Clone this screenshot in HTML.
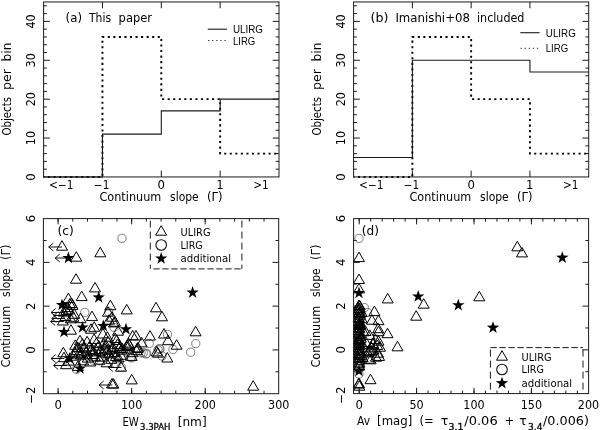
<!DOCTYPE html>
<html><head><meta charset="utf-8"><title>Continuum slope figure</title>
<style>html,body{margin:0;padding:0;background:#fff}svg{display:block}</style></head>
<body>
<svg width="600" height="430" viewBox="0 0 600 430">
<rect width="600" height="430" fill="#fff"/>
<line x1="43.60" y1="169.17" x2="46.90" y2="169.17" stroke="#1a1a1a" stroke-width="1"/>
<line x1="279.00" y1="169.17" x2="275.70" y2="169.17" stroke="#1a1a1a" stroke-width="1"/>
<line x1="43.60" y1="161.39" x2="46.90" y2="161.39" stroke="#1a1a1a" stroke-width="1"/>
<line x1="279.00" y1="161.39" x2="275.70" y2="161.39" stroke="#1a1a1a" stroke-width="1"/>
<line x1="43.60" y1="153.62" x2="46.90" y2="153.62" stroke="#1a1a1a" stroke-width="1"/>
<line x1="279.00" y1="153.62" x2="275.70" y2="153.62" stroke="#1a1a1a" stroke-width="1"/>
<line x1="43.60" y1="145.84" x2="46.90" y2="145.84" stroke="#1a1a1a" stroke-width="1"/>
<line x1="279.00" y1="145.84" x2="275.70" y2="145.84" stroke="#1a1a1a" stroke-width="1"/>
<line x1="43.60" y1="138.06" x2="49.90" y2="138.06" stroke="#1a1a1a" stroke-width="1"/>
<line x1="279.00" y1="138.06" x2="272.70" y2="138.06" stroke="#1a1a1a" stroke-width="1"/>
<line x1="43.60" y1="130.28" x2="46.90" y2="130.28" stroke="#1a1a1a" stroke-width="1"/>
<line x1="279.00" y1="130.28" x2="275.70" y2="130.28" stroke="#1a1a1a" stroke-width="1"/>
<line x1="43.60" y1="122.51" x2="46.90" y2="122.51" stroke="#1a1a1a" stroke-width="1"/>
<line x1="279.00" y1="122.51" x2="275.70" y2="122.51" stroke="#1a1a1a" stroke-width="1"/>
<line x1="43.60" y1="114.73" x2="46.90" y2="114.73" stroke="#1a1a1a" stroke-width="1"/>
<line x1="279.00" y1="114.73" x2="275.70" y2="114.73" stroke="#1a1a1a" stroke-width="1"/>
<line x1="43.60" y1="106.95" x2="46.90" y2="106.95" stroke="#1a1a1a" stroke-width="1"/>
<line x1="279.00" y1="106.95" x2="275.70" y2="106.95" stroke="#1a1a1a" stroke-width="1"/>
<line x1="43.60" y1="99.17" x2="49.90" y2="99.17" stroke="#1a1a1a" stroke-width="1"/>
<line x1="279.00" y1="99.17" x2="272.70" y2="99.17" stroke="#1a1a1a" stroke-width="1"/>
<line x1="43.60" y1="91.39" x2="46.90" y2="91.39" stroke="#1a1a1a" stroke-width="1"/>
<line x1="279.00" y1="91.39" x2="275.70" y2="91.39" stroke="#1a1a1a" stroke-width="1"/>
<line x1="43.60" y1="83.62" x2="46.90" y2="83.62" stroke="#1a1a1a" stroke-width="1"/>
<line x1="279.00" y1="83.62" x2="275.70" y2="83.62" stroke="#1a1a1a" stroke-width="1"/>
<line x1="43.60" y1="75.84" x2="46.90" y2="75.84" stroke="#1a1a1a" stroke-width="1"/>
<line x1="279.00" y1="75.84" x2="275.70" y2="75.84" stroke="#1a1a1a" stroke-width="1"/>
<line x1="43.60" y1="68.06" x2="46.90" y2="68.06" stroke="#1a1a1a" stroke-width="1"/>
<line x1="279.00" y1="68.06" x2="275.70" y2="68.06" stroke="#1a1a1a" stroke-width="1"/>
<line x1="43.60" y1="60.28" x2="49.90" y2="60.28" stroke="#1a1a1a" stroke-width="1"/>
<line x1="279.00" y1="60.28" x2="272.70" y2="60.28" stroke="#1a1a1a" stroke-width="1"/>
<line x1="43.60" y1="52.51" x2="46.90" y2="52.51" stroke="#1a1a1a" stroke-width="1"/>
<line x1="279.00" y1="52.51" x2="275.70" y2="52.51" stroke="#1a1a1a" stroke-width="1"/>
<line x1="43.60" y1="44.73" x2="46.90" y2="44.73" stroke="#1a1a1a" stroke-width="1"/>
<line x1="279.00" y1="44.73" x2="275.70" y2="44.73" stroke="#1a1a1a" stroke-width="1"/>
<line x1="43.60" y1="36.95" x2="46.90" y2="36.95" stroke="#1a1a1a" stroke-width="1"/>
<line x1="279.00" y1="36.95" x2="275.70" y2="36.95" stroke="#1a1a1a" stroke-width="1"/>
<line x1="43.60" y1="29.17" x2="46.90" y2="29.17" stroke="#1a1a1a" stroke-width="1"/>
<line x1="279.00" y1="29.17" x2="275.70" y2="29.17" stroke="#1a1a1a" stroke-width="1"/>
<line x1="43.60" y1="21.39" x2="49.90" y2="21.39" stroke="#1a1a1a" stroke-width="1"/>
<line x1="279.00" y1="21.39" x2="272.70" y2="21.39" stroke="#1a1a1a" stroke-width="1"/>
<line x1="43.60" y1="13.62" x2="46.90" y2="13.62" stroke="#1a1a1a" stroke-width="1"/>
<line x1="279.00" y1="13.62" x2="275.70" y2="13.62" stroke="#1a1a1a" stroke-width="1"/>
<line x1="43.60" y1="5.84" x2="46.90" y2="5.84" stroke="#1a1a1a" stroke-width="1"/>
<line x1="279.00" y1="5.84" x2="275.70" y2="5.84" stroke="#1a1a1a" stroke-width="1"/>
<line x1="102.45" y1="1.95" x2="102.45" y2="8.25" stroke="#1a1a1a" stroke-width="1"/>
<line x1="102.45" y1="176.95" x2="102.45" y2="170.65" stroke="#1a1a1a" stroke-width="1"/>
<line x1="161.30" y1="1.95" x2="161.30" y2="8.25" stroke="#1a1a1a" stroke-width="1"/>
<line x1="161.30" y1="176.95" x2="161.30" y2="170.65" stroke="#1a1a1a" stroke-width="1"/>
<line x1="220.15" y1="1.95" x2="220.15" y2="8.25" stroke="#1a1a1a" stroke-width="1"/>
<line x1="220.15" y1="176.95" x2="220.15" y2="170.65" stroke="#1a1a1a" stroke-width="1"/>
<text x="35.20" y="176.95" font-size="11.7" font-family='"DejaVu Sans","Liberation Sans",sans-serif' fill="#000" text-anchor="middle" transform="rotate(-90 35.20 176.95)">0</text>
<text x="35.20" y="138.06" font-size="11.7" font-family='"DejaVu Sans","Liberation Sans",sans-serif' fill="#000" text-anchor="middle" textLength="14.30" lengthAdjust="spacingAndGlyphs" transform="rotate(-90 35.20 138.06)">10</text>
<text x="35.20" y="99.17" font-size="11.7" font-family='"DejaVu Sans","Liberation Sans",sans-serif' fill="#000" text-anchor="middle" textLength="14.30" lengthAdjust="spacingAndGlyphs" transform="rotate(-90 35.20 99.17)">20</text>
<text x="35.20" y="60.28" font-size="11.7" font-family='"DejaVu Sans","Liberation Sans",sans-serif' fill="#000" text-anchor="middle" textLength="14.30" lengthAdjust="spacingAndGlyphs" transform="rotate(-90 35.20 60.28)">30</text>
<text x="35.20" y="21.39" font-size="11.7" font-family='"DejaVu Sans","Liberation Sans",sans-serif' fill="#000" text-anchor="middle" textLength="14.30" lengthAdjust="spacingAndGlyphs" transform="rotate(-90 35.20 21.39)">40</text>
<text x="49.00" y="188.50" font-size="11.7" font-family='"DejaVu Sans","Liberation Sans",sans-serif' fill="#000" textLength="24.50" lengthAdjust="spacingAndGlyphs">&lt;−1</text>
<text x="93.85" y="188.50" font-size="11.7" font-family='"DejaVu Sans","Liberation Sans",sans-serif' fill="#000" textLength="15.50" lengthAdjust="spacingAndGlyphs">−1</text>
<text x="161.30" y="188.50" font-size="11.7" font-family='"DejaVu Sans","Liberation Sans",sans-serif' fill="#000" text-anchor="middle">0</text>
<text x="219.85" y="188.50" font-size="11.7" font-family='"DejaVu Sans","Liberation Sans",sans-serif' fill="#000" text-anchor="middle">1</text>
<text x="253.15" y="188.50" font-size="11.7" font-family='"DejaVu Sans","Liberation Sans",sans-serif' fill="#000" textLength="15.50" lengthAdjust="spacingAndGlyphs">&gt;1</text>
<text font-size="11.7" font-family='"DejaVu Sans","Liberation Sans",sans-serif' fill="#000"><tspan x="99.50" y="200.80" textLength="61.75" lengthAdjust="spacingAndGlyphs">Continuum</tspan> <tspan x="170.00" y="200.80" textLength="28.75" lengthAdjust="spacingAndGlyphs">slope</tspan> <tspan x="207.00" y="200.80" textLength="15.50" lengthAdjust="spacingAndGlyphs">(Γ)</tspan></text>
<text font-size="11.7" font-family='"DejaVu Sans","Liberation Sans",sans-serif' fill="#000" transform="rotate(-90 11.20 135.50)"><tspan x="11.20" y="135.50" textLength="38.50" lengthAdjust="spacingAndGlyphs">Objects</tspan> <tspan x="56.70" y="135.50" textLength="21.00" lengthAdjust="spacingAndGlyphs">per</tspan> <tspan x="85.20" y="135.50" textLength="18.90" lengthAdjust="spacingAndGlyphs">bin</tspan></text>
<text font-size="11.7" font-family='"DejaVu Sans","Liberation Sans",sans-serif' fill="#000"><tspan x="65.60" y="21.90" textLength="16.40" lengthAdjust="spacingAndGlyphs">(a)</tspan> <tspan x="89.00" y="21.90" textLength="22.00" lengthAdjust="spacingAndGlyphs">This</tspan> <tspan x="118.60" y="21.90" textLength="33.40" lengthAdjust="spacingAndGlyphs">paper</tspan></text>
<polyline points="43.60,176.95 43.60,176.95 102.45,176.95 102.45,36.95 161.30,36.95 161.30,99.17 220.15,99.17 220.15,153.62 279.00,153.62" fill="none" stroke="#000" stroke-width="1.9" stroke-dasharray="2.1 3.45" stroke-dashoffset="1.2"/>
<polyline points="43.60,176.95 43.60,176.95 102.45,176.95 102.45,134.17 161.30,134.17 161.30,110.84 220.15,110.84 220.15,99.17 279.00,99.17" fill="none" stroke="#1a1a1a" stroke-width="1.1"/>
<line x1="207.80" y1="29.20" x2="227.10" y2="29.20" stroke="#1a1a1a" stroke-width="1.1"/>
<line x1="208.00" y1="40.50" x2="225.80" y2="40.50" stroke="#333" stroke-width="1.0" stroke-dasharray="1.3 2.8"/>
<text x="233.00" y="33.10" font-size="10.5" font-family='"Liberation Sans","DejaVu Sans",sans-serif' fill="#000" textLength="30.00" lengthAdjust="spacingAndGlyphs">ULIRG</text>
<text x="233.00" y="44.60" font-size="10.5" font-family='"Liberation Sans","DejaVu Sans",sans-serif' fill="#000" textLength="22.30" lengthAdjust="spacingAndGlyphs">LIRG</text>
<rect x="43.60" y="1.95" width="235.40" height="175.00" fill="none" stroke="#1a1a1a" stroke-width="1"/>
<line x1="353.60" y1="169.17" x2="356.90" y2="169.17" stroke="#1a1a1a" stroke-width="1"/>
<line x1="588.70" y1="169.17" x2="585.40" y2="169.17" stroke="#1a1a1a" stroke-width="1"/>
<line x1="353.60" y1="161.39" x2="356.90" y2="161.39" stroke="#1a1a1a" stroke-width="1"/>
<line x1="588.70" y1="161.39" x2="585.40" y2="161.39" stroke="#1a1a1a" stroke-width="1"/>
<line x1="353.60" y1="153.62" x2="356.90" y2="153.62" stroke="#1a1a1a" stroke-width="1"/>
<line x1="588.70" y1="153.62" x2="585.40" y2="153.62" stroke="#1a1a1a" stroke-width="1"/>
<line x1="353.60" y1="145.84" x2="356.90" y2="145.84" stroke="#1a1a1a" stroke-width="1"/>
<line x1="588.70" y1="145.84" x2="585.40" y2="145.84" stroke="#1a1a1a" stroke-width="1"/>
<line x1="353.60" y1="138.06" x2="359.90" y2="138.06" stroke="#1a1a1a" stroke-width="1"/>
<line x1="588.70" y1="138.06" x2="582.40" y2="138.06" stroke="#1a1a1a" stroke-width="1"/>
<line x1="353.60" y1="130.28" x2="356.90" y2="130.28" stroke="#1a1a1a" stroke-width="1"/>
<line x1="588.70" y1="130.28" x2="585.40" y2="130.28" stroke="#1a1a1a" stroke-width="1"/>
<line x1="353.60" y1="122.51" x2="356.90" y2="122.51" stroke="#1a1a1a" stroke-width="1"/>
<line x1="588.70" y1="122.51" x2="585.40" y2="122.51" stroke="#1a1a1a" stroke-width="1"/>
<line x1="353.60" y1="114.73" x2="356.90" y2="114.73" stroke="#1a1a1a" stroke-width="1"/>
<line x1="588.70" y1="114.73" x2="585.40" y2="114.73" stroke="#1a1a1a" stroke-width="1"/>
<line x1="353.60" y1="106.95" x2="356.90" y2="106.95" stroke="#1a1a1a" stroke-width="1"/>
<line x1="588.70" y1="106.95" x2="585.40" y2="106.95" stroke="#1a1a1a" stroke-width="1"/>
<line x1="353.60" y1="99.17" x2="359.90" y2="99.17" stroke="#1a1a1a" stroke-width="1"/>
<line x1="588.70" y1="99.17" x2="582.40" y2="99.17" stroke="#1a1a1a" stroke-width="1"/>
<line x1="353.60" y1="91.39" x2="356.90" y2="91.39" stroke="#1a1a1a" stroke-width="1"/>
<line x1="588.70" y1="91.39" x2="585.40" y2="91.39" stroke="#1a1a1a" stroke-width="1"/>
<line x1="353.60" y1="83.62" x2="356.90" y2="83.62" stroke="#1a1a1a" stroke-width="1"/>
<line x1="588.70" y1="83.62" x2="585.40" y2="83.62" stroke="#1a1a1a" stroke-width="1"/>
<line x1="353.60" y1="75.84" x2="356.90" y2="75.84" stroke="#1a1a1a" stroke-width="1"/>
<line x1="588.70" y1="75.84" x2="585.40" y2="75.84" stroke="#1a1a1a" stroke-width="1"/>
<line x1="353.60" y1="68.06" x2="356.90" y2="68.06" stroke="#1a1a1a" stroke-width="1"/>
<line x1="588.70" y1="68.06" x2="585.40" y2="68.06" stroke="#1a1a1a" stroke-width="1"/>
<line x1="353.60" y1="60.28" x2="359.90" y2="60.28" stroke="#1a1a1a" stroke-width="1"/>
<line x1="588.70" y1="60.28" x2="582.40" y2="60.28" stroke="#1a1a1a" stroke-width="1"/>
<line x1="353.60" y1="52.51" x2="356.90" y2="52.51" stroke="#1a1a1a" stroke-width="1"/>
<line x1="588.70" y1="52.51" x2="585.40" y2="52.51" stroke="#1a1a1a" stroke-width="1"/>
<line x1="353.60" y1="44.73" x2="356.90" y2="44.73" stroke="#1a1a1a" stroke-width="1"/>
<line x1="588.70" y1="44.73" x2="585.40" y2="44.73" stroke="#1a1a1a" stroke-width="1"/>
<line x1="353.60" y1="36.95" x2="356.90" y2="36.95" stroke="#1a1a1a" stroke-width="1"/>
<line x1="588.70" y1="36.95" x2="585.40" y2="36.95" stroke="#1a1a1a" stroke-width="1"/>
<line x1="353.60" y1="29.17" x2="356.90" y2="29.17" stroke="#1a1a1a" stroke-width="1"/>
<line x1="588.70" y1="29.17" x2="585.40" y2="29.17" stroke="#1a1a1a" stroke-width="1"/>
<line x1="353.60" y1="21.39" x2="359.90" y2="21.39" stroke="#1a1a1a" stroke-width="1"/>
<line x1="588.70" y1="21.39" x2="582.40" y2="21.39" stroke="#1a1a1a" stroke-width="1"/>
<line x1="353.60" y1="13.62" x2="356.90" y2="13.62" stroke="#1a1a1a" stroke-width="1"/>
<line x1="588.70" y1="13.62" x2="585.40" y2="13.62" stroke="#1a1a1a" stroke-width="1"/>
<line x1="353.60" y1="5.84" x2="356.90" y2="5.84" stroke="#1a1a1a" stroke-width="1"/>
<line x1="588.70" y1="5.84" x2="585.40" y2="5.84" stroke="#1a1a1a" stroke-width="1"/>
<line x1="412.38" y1="1.95" x2="412.38" y2="8.25" stroke="#1a1a1a" stroke-width="1"/>
<line x1="412.38" y1="176.95" x2="412.38" y2="170.65" stroke="#1a1a1a" stroke-width="1"/>
<line x1="471.15" y1="1.95" x2="471.15" y2="8.25" stroke="#1a1a1a" stroke-width="1"/>
<line x1="471.15" y1="176.95" x2="471.15" y2="170.65" stroke="#1a1a1a" stroke-width="1"/>
<line x1="529.93" y1="1.95" x2="529.93" y2="8.25" stroke="#1a1a1a" stroke-width="1"/>
<line x1="529.93" y1="176.95" x2="529.93" y2="170.65" stroke="#1a1a1a" stroke-width="1"/>
<text x="345.20" y="176.95" font-size="11.7" font-family='"DejaVu Sans","Liberation Sans",sans-serif' fill="#000" text-anchor="middle" transform="rotate(-90 345.20 176.95)">0</text>
<text x="345.20" y="138.06" font-size="11.7" font-family='"DejaVu Sans","Liberation Sans",sans-serif' fill="#000" text-anchor="middle" textLength="14.30" lengthAdjust="spacingAndGlyphs" transform="rotate(-90 345.20 138.06)">10</text>
<text x="345.20" y="99.17" font-size="11.7" font-family='"DejaVu Sans","Liberation Sans",sans-serif' fill="#000" text-anchor="middle" textLength="14.30" lengthAdjust="spacingAndGlyphs" transform="rotate(-90 345.20 99.17)">20</text>
<text x="345.20" y="60.28" font-size="11.7" font-family='"DejaVu Sans","Liberation Sans",sans-serif' fill="#000" text-anchor="middle" textLength="14.30" lengthAdjust="spacingAndGlyphs" transform="rotate(-90 345.20 60.28)">30</text>
<text x="345.20" y="21.39" font-size="11.7" font-family='"DejaVu Sans","Liberation Sans",sans-serif' fill="#000" text-anchor="middle" textLength="14.30" lengthAdjust="spacingAndGlyphs" transform="rotate(-90 345.20 21.39)">40</text>
<text x="359.00" y="188.50" font-size="11.7" font-family='"DejaVu Sans","Liberation Sans",sans-serif' fill="#000" textLength="24.50" lengthAdjust="spacingAndGlyphs">&lt;−1</text>
<text x="403.77" y="188.50" font-size="11.7" font-family='"DejaVu Sans","Liberation Sans",sans-serif' fill="#000" textLength="15.50" lengthAdjust="spacingAndGlyphs">−1</text>
<text x="471.15" y="188.50" font-size="11.7" font-family='"DejaVu Sans","Liberation Sans",sans-serif' fill="#000" text-anchor="middle">0</text>
<text x="529.63" y="188.50" font-size="11.7" font-family='"DejaVu Sans","Liberation Sans",sans-serif' fill="#000" text-anchor="middle">1</text>
<text x="562.93" y="188.50" font-size="11.7" font-family='"DejaVu Sans","Liberation Sans",sans-serif' fill="#000" textLength="15.50" lengthAdjust="spacingAndGlyphs">&gt;1</text>
<text font-size="11.7" font-family='"DejaVu Sans","Liberation Sans",sans-serif' fill="#000"><tspan x="409.50" y="200.80" textLength="61.75" lengthAdjust="spacingAndGlyphs">Continuum</tspan> <tspan x="480.00" y="200.80" textLength="28.75" lengthAdjust="spacingAndGlyphs">slope</tspan> <tspan x="517.00" y="200.80" textLength="15.50" lengthAdjust="spacingAndGlyphs">(Γ)</tspan></text>
<text font-size="11.7" font-family='"DejaVu Sans","Liberation Sans",sans-serif' fill="#000" transform="rotate(-90 321.20 135.50)"><tspan x="321.20" y="135.50" textLength="38.50" lengthAdjust="spacingAndGlyphs">Objects</tspan> <tspan x="366.70" y="135.50" textLength="21.00" lengthAdjust="spacingAndGlyphs">per</tspan> <tspan x="395.20" y="135.50" textLength="18.90" lengthAdjust="spacingAndGlyphs">bin</tspan></text>
<text font-size="11.7" font-family='"DejaVu Sans","Liberation Sans",sans-serif' fill="#000"><tspan x="370.50" y="21.90" textLength="18.00" lengthAdjust="spacingAndGlyphs">(b)</tspan> <tspan x="395.40" y="21.90" textLength="74.60" lengthAdjust="spacingAndGlyphs">Imanishi+08</tspan> <tspan x="477.00" y="21.90" textLength="47.40" lengthAdjust="spacingAndGlyphs">included</tspan></text>
<polyline points="353.60,176.95 353.60,176.95 412.38,176.95 412.38,36.95 471.15,36.95 471.15,99.17 529.93,99.17 529.93,153.62 588.70,153.62" fill="none" stroke="#000" stroke-width="1.9" stroke-dasharray="2.1 3.45" stroke-dashoffset="1.2"/>
<polyline points="353.60,157.51 353.60,157.51 412.38,157.51 412.38,60.28 471.15,60.28 471.15,60.28 529.93,60.28 529.93,71.95 588.70,71.95" fill="none" stroke="#1a1a1a" stroke-width="1.1"/>
<line x1="520.30" y1="32.70" x2="539.60" y2="32.70" stroke="#1a1a1a" stroke-width="1.1"/>
<line x1="520.50" y1="48.30" x2="538.30" y2="48.30" stroke="#333" stroke-width="1.0" stroke-dasharray="1.3 2.8"/>
<text x="545.80" y="36.60" font-size="10.5" font-family='"Liberation Sans","DejaVu Sans",sans-serif' fill="#000" textLength="30.00" lengthAdjust="spacingAndGlyphs">ULIRG</text>
<text x="545.80" y="52.40" font-size="10.5" font-family='"Liberation Sans","DejaVu Sans",sans-serif' fill="#000" textLength="22.30" lengthAdjust="spacingAndGlyphs">LIRG</text>
<rect x="353.60" y="1.95" width="235.10" height="175.00" fill="none" stroke="#1a1a1a" stroke-width="1"/>
<line x1="43.40" y1="371.81" x2="46.60" y2="371.81" stroke="#1a1a1a" stroke-width="1"/>
<line x1="278.70" y1="371.81" x2="275.50" y2="371.81" stroke="#1a1a1a" stroke-width="1"/>
<line x1="43.40" y1="349.92" x2="49.60" y2="349.92" stroke="#1a1a1a" stroke-width="1"/>
<line x1="278.70" y1="349.92" x2="272.50" y2="349.92" stroke="#1a1a1a" stroke-width="1"/>
<line x1="43.40" y1="328.04" x2="46.60" y2="328.04" stroke="#1a1a1a" stroke-width="1"/>
<line x1="278.70" y1="328.04" x2="275.50" y2="328.04" stroke="#1a1a1a" stroke-width="1"/>
<line x1="43.40" y1="306.15" x2="49.60" y2="306.15" stroke="#1a1a1a" stroke-width="1"/>
<line x1="278.70" y1="306.15" x2="272.50" y2="306.15" stroke="#1a1a1a" stroke-width="1"/>
<line x1="43.40" y1="284.26" x2="46.60" y2="284.26" stroke="#1a1a1a" stroke-width="1"/>
<line x1="278.70" y1="284.26" x2="275.50" y2="284.26" stroke="#1a1a1a" stroke-width="1"/>
<line x1="43.40" y1="262.38" x2="49.60" y2="262.38" stroke="#1a1a1a" stroke-width="1"/>
<line x1="278.70" y1="262.38" x2="272.50" y2="262.38" stroke="#1a1a1a" stroke-width="1"/>
<line x1="43.40" y1="240.49" x2="46.60" y2="240.49" stroke="#1a1a1a" stroke-width="1"/>
<line x1="278.70" y1="240.49" x2="275.50" y2="240.49" stroke="#1a1a1a" stroke-width="1"/>
<line x1="58.10" y1="218.60" x2="58.10" y2="221.60" stroke="#1a1a1a" stroke-width="1"/>
<line x1="58.10" y1="393.70" x2="58.10" y2="390.70" stroke="#1a1a1a" stroke-width="1"/>
<line x1="72.81" y1="218.60" x2="72.81" y2="221.60" stroke="#1a1a1a" stroke-width="1"/>
<line x1="72.81" y1="393.70" x2="72.81" y2="390.70" stroke="#1a1a1a" stroke-width="1"/>
<line x1="87.52" y1="218.60" x2="87.52" y2="221.60" stroke="#1a1a1a" stroke-width="1"/>
<line x1="87.52" y1="393.70" x2="87.52" y2="390.70" stroke="#1a1a1a" stroke-width="1"/>
<line x1="102.23" y1="218.60" x2="102.23" y2="221.60" stroke="#1a1a1a" stroke-width="1"/>
<line x1="102.23" y1="393.70" x2="102.23" y2="390.70" stroke="#1a1a1a" stroke-width="1"/>
<line x1="116.94" y1="218.60" x2="116.94" y2="221.60" stroke="#1a1a1a" stroke-width="1"/>
<line x1="116.94" y1="393.70" x2="116.94" y2="390.70" stroke="#1a1a1a" stroke-width="1"/>
<line x1="131.65" y1="218.60" x2="131.65" y2="221.60" stroke="#1a1a1a" stroke-width="1"/>
<line x1="131.65" y1="393.70" x2="131.65" y2="390.70" stroke="#1a1a1a" stroke-width="1"/>
<line x1="146.36" y1="218.60" x2="146.36" y2="221.60" stroke="#1a1a1a" stroke-width="1"/>
<line x1="146.36" y1="393.70" x2="146.36" y2="390.70" stroke="#1a1a1a" stroke-width="1"/>
<line x1="161.07" y1="218.60" x2="161.07" y2="221.60" stroke="#1a1a1a" stroke-width="1"/>
<line x1="161.07" y1="393.70" x2="161.07" y2="390.70" stroke="#1a1a1a" stroke-width="1"/>
<line x1="175.78" y1="218.60" x2="175.78" y2="221.60" stroke="#1a1a1a" stroke-width="1"/>
<line x1="175.78" y1="393.70" x2="175.78" y2="390.70" stroke="#1a1a1a" stroke-width="1"/>
<line x1="190.49" y1="218.60" x2="190.49" y2="221.60" stroke="#1a1a1a" stroke-width="1"/>
<line x1="190.49" y1="393.70" x2="190.49" y2="390.70" stroke="#1a1a1a" stroke-width="1"/>
<line x1="205.20" y1="218.60" x2="205.20" y2="221.60" stroke="#1a1a1a" stroke-width="1"/>
<line x1="205.20" y1="393.70" x2="205.20" y2="390.70" stroke="#1a1a1a" stroke-width="1"/>
<line x1="219.91" y1="218.60" x2="219.91" y2="221.60" stroke="#1a1a1a" stroke-width="1"/>
<line x1="219.91" y1="393.70" x2="219.91" y2="390.70" stroke="#1a1a1a" stroke-width="1"/>
<line x1="234.62" y1="218.60" x2="234.62" y2="221.60" stroke="#1a1a1a" stroke-width="1"/>
<line x1="234.62" y1="393.70" x2="234.62" y2="390.70" stroke="#1a1a1a" stroke-width="1"/>
<line x1="249.33" y1="218.60" x2="249.33" y2="221.60" stroke="#1a1a1a" stroke-width="1"/>
<line x1="249.33" y1="393.70" x2="249.33" y2="390.70" stroke="#1a1a1a" stroke-width="1"/>
<line x1="264.04" y1="218.60" x2="264.04" y2="221.60" stroke="#1a1a1a" stroke-width="1"/>
<line x1="264.04" y1="393.70" x2="264.04" y2="390.70" stroke="#1a1a1a" stroke-width="1"/>
<line x1="58.10" y1="218.60" x2="58.10" y2="224.40" stroke="#1a1a1a" stroke-width="1"/>
<line x1="58.10" y1="393.70" x2="58.10" y2="387.90" stroke="#1a1a1a" stroke-width="1"/>
<line x1="131.65" y1="218.60" x2="131.65" y2="224.40" stroke="#1a1a1a" stroke-width="1"/>
<line x1="131.65" y1="393.70" x2="131.65" y2="387.90" stroke="#1a1a1a" stroke-width="1"/>
<line x1="205.20" y1="218.60" x2="205.20" y2="224.40" stroke="#1a1a1a" stroke-width="1"/>
<line x1="205.20" y1="393.70" x2="205.20" y2="387.90" stroke="#1a1a1a" stroke-width="1"/>
<text x="34.90" y="395.20" font-size="11.7" font-family='"DejaVu Sans","Liberation Sans",sans-serif' fill="#000" text-anchor="middle" transform="rotate(-90 34.90 395.20)">−2</text>
<text x="34.90" y="349.92" font-size="11.7" font-family='"DejaVu Sans","Liberation Sans",sans-serif' fill="#000" text-anchor="middle" transform="rotate(-90 34.90 349.92)">0</text>
<text x="34.90" y="306.15" font-size="11.7" font-family='"DejaVu Sans","Liberation Sans",sans-serif' fill="#000" text-anchor="middle" transform="rotate(-90 34.90 306.15)">2</text>
<text x="34.90" y="262.38" font-size="11.7" font-family='"DejaVu Sans","Liberation Sans",sans-serif' fill="#000" text-anchor="middle" transform="rotate(-90 34.90 262.38)">4</text>
<text x="34.90" y="218.60" font-size="11.7" font-family='"DejaVu Sans","Liberation Sans",sans-serif' fill="#000" text-anchor="middle" transform="rotate(-90 34.90 218.60)">6</text>
<text x="58.10" y="409.30" font-size="11.7" font-family='"DejaVu Sans","Liberation Sans",sans-serif' fill="#000" text-anchor="middle">0</text>
<text x="131.65" y="409.30" font-size="11.7" font-family='"DejaVu Sans","Liberation Sans",sans-serif' fill="#000" text-anchor="middle" textLength="21.30" lengthAdjust="spacingAndGlyphs">100</text>
<text x="205.20" y="409.30" font-size="11.7" font-family='"DejaVu Sans","Liberation Sans",sans-serif' fill="#000" text-anchor="middle" textLength="21.30" lengthAdjust="spacingAndGlyphs">200</text>
<text x="278.75" y="409.30" font-size="11.7" font-family='"DejaVu Sans","Liberation Sans",sans-serif' fill="#000" text-anchor="middle" textLength="21.30" lengthAdjust="spacingAndGlyphs">300</text>
<text font-size="11.7" font-family='"DejaVu Sans","Liberation Sans",sans-serif' fill="#000" transform="rotate(-90 10.00 367.50)"><tspan x="10.00" y="367.50" textLength="61.75" lengthAdjust="spacingAndGlyphs">Continuum</tspan> <tspan x="80.50" y="367.50" textLength="28.75" lengthAdjust="spacingAndGlyphs">slope</tspan> <tspan x="117.50" y="367.50" textLength="15.50" lengthAdjust="spacingAndGlyphs">(Γ)</tspan></text>
<text x="57.50" y="234.70" font-size="12.4" font-family='"DejaVu Sans","Liberation Sans",sans-serif' fill="#000" textLength="16.40" lengthAdjust="spacingAndGlyphs">(c)</text>
<text x="122.40" y="425.70" font-size="11.7" font-family='"DejaVu Sans","Liberation Sans",sans-serif' fill="#000" textLength="16.40" lengthAdjust="spacingAndGlyphs">EW</text>
<text x="140.00" y="430.40" font-size="8.3" font-family='"DejaVu Sans","Liberation Sans",sans-serif' fill="#000" textLength="30.50" lengthAdjust="spacingAndGlyphs" stroke="#111" stroke-width="0.3">3.3PAH</text>
<text x="177.70" y="425.70" font-size="11.7" font-family='"DejaVu Sans","Liberation Sans",sans-serif' fill="#000" textLength="29.00" lengthAdjust="spacingAndGlyphs">[nm]</text>
<circle cx="122.0" cy="238.3" r="4.1" fill="none" stroke="#555" stroke-width="0.75"/>
<circle cx="84.8" cy="312.4" r="4.1" fill="none" stroke="#555" stroke-width="0.75"/>
<circle cx="149.3" cy="343.4" r="4.1" fill="none" stroke="#555" stroke-width="0.75"/>
<circle cx="114.0" cy="327.3" r="4.1" fill="none" stroke="#555" stroke-width="0.75"/>
<circle cx="143.3" cy="352.7" r="4.1" fill="none" stroke="#555" stroke-width="0.75"/>
<circle cx="159.3" cy="348.7" r="4.1" fill="none" stroke="#555" stroke-width="0.75"/>
<circle cx="167.5" cy="334.4" r="4.1" fill="none" stroke="#555" stroke-width="0.75"/>
<circle cx="108.7" cy="312.0" r="4.1" fill="none" stroke="#555" stroke-width="0.75"/>
<circle cx="195.8" cy="343.6" r="4.1" fill="none" stroke="#555" stroke-width="0.75"/>
<circle cx="190.7" cy="352.2" r="4.1" fill="none" stroke="#555" stroke-width="0.75"/>
<circle cx="173.0" cy="349.4" r="4.1" fill="none" stroke="#555" stroke-width="0.75"/>
<circle cx="160.0" cy="349.0" r="4.1" fill="none" stroke="#555" stroke-width="0.75"/>
<circle cx="146.0" cy="354.0" r="4.1" fill="none" stroke="#555" stroke-width="0.75"/>
<circle cx="141.0" cy="353.0" r="4.1" fill="none" stroke="#555" stroke-width="0.75"/>
<circle cx="162.0" cy="356.0" r="4.1" fill="none" stroke="#555" stroke-width="0.75"/>
<circle cx="158.0" cy="350.0" r="4.1" fill="none" stroke="#555" stroke-width="0.75"/>
<circle cx="130.7" cy="357.3" r="4.1" fill="none" stroke="#555" stroke-width="0.75"/>
<circle cx="146.7" cy="353.3" r="4.1" fill="none" stroke="#555" stroke-width="0.75"/>
<circle cx="121.3" cy="367.3" r="4.1" fill="none" stroke="#555" stroke-width="0.75"/>
<circle cx="108.8" cy="353.9" r="4.1" fill="none" stroke="#555" stroke-width="0.75"/>
<circle cx="93.5" cy="360.4" r="4.1" fill="none" stroke="#555" stroke-width="0.75"/>
<circle cx="124.0" cy="349.7" r="4.1" fill="none" stroke="#555" stroke-width="0.75"/>
<circle cx="85.9" cy="355.8" r="4.1" fill="none" stroke="#555" stroke-width="0.75"/>
<circle cx="116.4" cy="363.6" r="4.1" fill="none" stroke="#555" stroke-width="0.75"/>
<circle cx="101.2" cy="352.0" r="4.1" fill="none" stroke="#555" stroke-width="0.75"/>
<circle cx="131.7" cy="357.9" r="4.1" fill="none" stroke="#555" stroke-width="0.75"/>
<circle cx="76.4" cy="369.3" r="4.1" fill="none" stroke="#555" stroke-width="0.75"/>
<circle cx="106.9" cy="341.4" r="4.1" fill="none" stroke="#555" stroke-width="0.75"/>
<circle cx="91.6" cy="352.3" r="4.1" fill="none" stroke="#555" stroke-width="0.75"/>
<circle cx="122.1" cy="358.2" r="4.1" fill="none" stroke="#555" stroke-width="0.75"/>
<circle cx="84.0" cy="347.2" r="4.1" fill="none" stroke="#555" stroke-width="0.75"/>
<circle cx="114.5" cy="354.2" r="4.1" fill="none" stroke="#555" stroke-width="0.75"/>
<circle cx="99.3" cy="360.8" r="4.1" fill="none" stroke="#555" stroke-width="0.75"/>
<circle cx="129.8" cy="350.1" r="4.1" fill="none" stroke="#555" stroke-width="0.75"/>
<circle cx="80.2" cy="356.1" r="4.1" fill="none" stroke="#555" stroke-width="0.75"/>
<path d="M62.0 247.0L48.7 247.0M53.4 243.0L48.7 247.0L53.4 251.0" fill="none" stroke="#111" stroke-width="1"/>
<path d="M68.4 258.0L55.1 258.0M59.8 254.0L55.1 258.0L59.8 262.0" fill="none" stroke="#111" stroke-width="1"/>
<path d="M64.3 312.5L51.0 312.5M55.7 308.5L51.0 312.5L55.7 316.5" fill="none" stroke="#111" stroke-width="1"/>
<path d="M67.0 315.5L53.7 315.5M58.4 311.5L53.7 315.5L58.4 319.5" fill="none" stroke="#111" stroke-width="1"/>
<path d="M63.8 321.5L50.5 321.5M55.2 317.5L50.5 321.5L55.2 325.5" fill="none" stroke="#111" stroke-width="1"/>
<path d="M64.3 358.5L51.0 358.5M55.7 354.5L51.0 358.5L55.7 362.5" fill="none" stroke="#111" stroke-width="1"/>
<path d="M66.8 365.5L53.5 365.5M58.2 361.5L53.5 365.5L58.2 369.5" fill="none" stroke="#111" stroke-width="1"/>
<path d="M121.5 367.5L108.2 367.5M112.9 363.5L108.2 367.5L112.9 371.5" fill="none" stroke="#111" stroke-width="1"/>
<path d="M112.3 385.0L99.0 385.0M103.7 381.0L99.0 385.0L103.7 389.0" fill="none" stroke="#111" stroke-width="1"/>
<path d="M65.0 318.5L51.7 318.5M56.4 314.5L51.7 318.5L56.4 322.5" fill="none" stroke="#111" stroke-width="1"/>
<path d="M62.0 240.7L67.5 250.2L56.5 250.2Z" fill="none" stroke="#000" stroke-width="1.0" stroke-linejoin="miter"/>
<path d="M76.3 251.7L81.8 261.2L70.8 261.2Z" fill="none" stroke="#000" stroke-width="1.0" stroke-linejoin="miter"/>
<path d="M100.3 247.3L105.8 256.8L94.8 256.8Z" fill="none" stroke="#000" stroke-width="1.0" stroke-linejoin="miter"/>
<path d="M76.0 273.7L81.5 283.2L70.5 283.2Z" fill="none" stroke="#000" stroke-width="1.0" stroke-linejoin="miter"/>
<path d="M95.0 282.4L100.5 291.9L89.5 291.9Z" fill="none" stroke="#000" stroke-width="1.0" stroke-linejoin="miter"/>
<path d="M81.7 291.1L87.2 300.6L76.2 300.6Z" fill="none" stroke="#000" stroke-width="1.0" stroke-linejoin="miter"/>
<path d="M68.4 293.1L73.9 302.6L62.9 302.6Z" fill="none" stroke="#000" stroke-width="1.0" stroke-linejoin="miter"/>
<path d="M71.6 298.0L77.1 307.5L66.1 307.5Z" fill="none" stroke="#000" stroke-width="1.0" stroke-linejoin="miter"/>
<path d="M110.4 300.2L115.9 309.7L104.9 309.7Z" fill="none" stroke="#000" stroke-width="1.0" stroke-linejoin="miter"/>
<path d="M92.0 311.1L97.5 320.6L86.5 320.6Z" fill="none" stroke="#000" stroke-width="1.0" stroke-linejoin="miter"/>
<path d="M80.5 313.2L86.0 322.7L75.0 322.7Z" fill="none" stroke="#000" stroke-width="1.0" stroke-linejoin="miter"/>
<path d="M91.0 323.7L96.5 333.2L85.5 333.2Z" fill="none" stroke="#000" stroke-width="1.0" stroke-linejoin="miter"/>
<path d="M71.0 324.7L76.5 334.2L65.5 334.2Z" fill="none" stroke="#000" stroke-width="1.0" stroke-linejoin="miter"/>
<path d="M126.7 304.4L132.2 313.9L121.2 313.9Z" fill="none" stroke="#000" stroke-width="1.0" stroke-linejoin="miter"/>
<path d="M156.0 302.3L161.5 311.8L150.5 311.8Z" fill="none" stroke="#000" stroke-width="1.0" stroke-linejoin="miter"/>
<path d="M162.0 311.3L167.5 320.8L156.5 320.8Z" fill="none" stroke="#000" stroke-width="1.0" stroke-linejoin="miter"/>
<path d="M108.0 306.7L113.5 316.2L102.5 316.2Z" fill="none" stroke="#000" stroke-width="1.0" stroke-linejoin="miter"/>
<path d="M112.0 311.7L117.5 321.2L106.5 321.2Z" fill="none" stroke="#000" stroke-width="1.0" stroke-linejoin="miter"/>
<path d="M109.0 314.7L114.5 324.2L103.5 324.2Z" fill="none" stroke="#000" stroke-width="1.0" stroke-linejoin="miter"/>
<path d="M115.0 316.7L120.5 326.2L109.5 326.2Z" fill="none" stroke="#000" stroke-width="1.0" stroke-linejoin="miter"/>
<path d="M118.0 325.7L123.5 335.2L112.5 335.2Z" fill="none" stroke="#000" stroke-width="1.0" stroke-linejoin="miter"/>
<path d="M150.0 330.6L155.5 340.1L144.5 340.1Z" fill="none" stroke="#000" stroke-width="1.0" stroke-linejoin="miter"/>
<path d="M164.0 328.5L169.5 338.0L158.5 338.0Z" fill="none" stroke="#000" stroke-width="1.0" stroke-linejoin="miter"/>
<path d="M168.0 335.2L173.5 344.7L162.5 344.7Z" fill="none" stroke="#000" stroke-width="1.0" stroke-linejoin="miter"/>
<path d="M132.7 330.4L138.2 339.9L127.2 339.9Z" fill="none" stroke="#000" stroke-width="1.0" stroke-linejoin="miter"/>
<path d="M136.0 330.4L141.5 339.9L130.5 339.9Z" fill="none" stroke="#000" stroke-width="1.0" stroke-linejoin="miter"/>
<path d="M107.3 331.7L112.8 341.2L101.8 341.2Z" fill="none" stroke="#000" stroke-width="1.0" stroke-linejoin="miter"/>
<path d="M116.7 335.0L122.2 344.5L111.2 344.5Z" fill="none" stroke="#000" stroke-width="1.0" stroke-linejoin="miter"/>
<path d="M128.7 338.4L134.2 347.9L123.2 347.9Z" fill="none" stroke="#000" stroke-width="1.0" stroke-linejoin="miter"/>
<path d="M138.0 342.4L143.5 351.9L132.5 351.9Z" fill="none" stroke="#000" stroke-width="1.0" stroke-linejoin="miter"/>
<path d="M156.7 346.4L162.2 355.9L151.2 355.9Z" fill="none" stroke="#000" stroke-width="1.0" stroke-linejoin="miter"/>
<path d="M158.0 347.7L163.5 357.2L152.5 357.2Z" fill="none" stroke="#000" stroke-width="1.0" stroke-linejoin="miter"/>
<path d="M167.3 352.5L172.8 362.0L161.8 362.0Z" fill="none" stroke="#000" stroke-width="1.0" stroke-linejoin="miter"/>
<path d="M129.3 339.7L134.8 349.2L123.8 349.2Z" fill="none" stroke="#000" stroke-width="1.0" stroke-linejoin="miter"/>
<path d="M137.3 343.0L142.8 352.5L131.8 352.5Z" fill="none" stroke="#000" stroke-width="1.0" stroke-linejoin="miter"/>
<path d="M176.6 339.7L182.1 349.2L171.1 349.2Z" fill="none" stroke="#000" stroke-width="1.0" stroke-linejoin="miter"/>
<path d="M195.6 326.3L201.1 335.8L190.1 335.8Z" fill="none" stroke="#000" stroke-width="1.0" stroke-linejoin="miter"/>
<path d="M253.2 380.7L258.7 390.2L247.7 390.2Z" fill="none" stroke="#000" stroke-width="1.0" stroke-linejoin="miter"/>
<path d="M131.7 374.4L137.2 383.9L126.2 383.9Z" fill="none" stroke="#000" stroke-width="1.0" stroke-linejoin="miter"/>
<path d="M112.0 378.4L117.5 387.9L106.5 387.9Z" fill="none" stroke="#000" stroke-width="1.0" stroke-linejoin="miter"/>
<path d="M113.4 378.6L118.9 388.1L107.9 388.1Z" fill="none" stroke="#000" stroke-width="1.0" stroke-linejoin="miter"/>
<path d="M121.0 361.7L126.5 371.2L115.5 371.2Z" fill="none" stroke="#000" stroke-width="1.0" stroke-linejoin="miter"/>
<path d="M64.0 352.2L69.5 361.7L58.5 361.7Z" fill="none" stroke="#000" stroke-width="1.0" stroke-linejoin="miter"/>
<path d="M66.0 359.2L71.5 368.7L60.5 368.7Z" fill="none" stroke="#000" stroke-width="1.0" stroke-linejoin="miter"/>
<path d="M69.0 304.4L74.5 313.9L63.5 313.9Z" fill="none" stroke="#000" stroke-width="1.0" stroke-linejoin="miter"/>
<path d="M65.5 311.0L71.0 320.5L60.0 320.5Z" fill="none" stroke="#000" stroke-width="1.0" stroke-linejoin="miter"/>
<path d="M72.5 299.9L78.0 309.4L67.0 309.4Z" fill="none" stroke="#000" stroke-width="1.0" stroke-linejoin="miter"/>
<path d="M63.8 306.6L69.2 316.1L58.2 316.1Z" fill="none" stroke="#000" stroke-width="1.0" stroke-linejoin="miter"/>
<path d="M70.8 313.3L76.2 322.8L65.2 322.8Z" fill="none" stroke="#000" stroke-width="1.0" stroke-linejoin="miter"/>
<path d="M67.2 302.1L72.8 311.6L61.8 311.6Z" fill="none" stroke="#000" stroke-width="1.0" stroke-linejoin="miter"/>
<path d="M74.2 308.8L79.8 318.3L68.8 318.3Z" fill="none" stroke="#000" stroke-width="1.0" stroke-linejoin="miter"/>
<path d="M62.9 315.5L68.4 325.0L57.4 325.0Z" fill="none" stroke="#000" stroke-width="1.0" stroke-linejoin="miter"/>
<path d="M69.9 298.4L75.4 307.9L64.4 307.9Z" fill="none" stroke="#000" stroke-width="1.0" stroke-linejoin="miter"/>
<path d="M66.4 305.1L71.9 314.6L60.9 314.6Z" fill="none" stroke="#000" stroke-width="1.0" stroke-linejoin="miter"/>
<path d="M73.4 311.8L78.9 321.3L67.9 321.3Z" fill="none" stroke="#000" stroke-width="1.0" stroke-linejoin="miter"/>
<path d="M82.4 338.6L87.9 348.1L76.9 348.1Z" fill="none" stroke="#000" stroke-width="1.0" stroke-linejoin="miter"/>
<path d="M107.4 344.9L112.9 354.4L101.9 354.4Z" fill="none" stroke="#000" stroke-width="1.0" stroke-linejoin="miter"/>
<path d="M94.9 351.3L100.4 360.8L89.4 360.8Z" fill="none" stroke="#000" stroke-width="1.0" stroke-linejoin="miter"/>
<path d="M119.9 341.1L125.4 350.6L114.4 350.6Z" fill="none" stroke="#000" stroke-width="1.0" stroke-linejoin="miter"/>
<path d="M74.6 346.7L80.1 356.2L69.1 356.2Z" fill="none" stroke="#000" stroke-width="1.0" stroke-linejoin="miter"/>
<path d="M99.6 354.7L105.1 364.2L94.1 364.2Z" fill="none" stroke="#000" stroke-width="1.0" stroke-linejoin="miter"/>
<path d="M87.1 336.3L92.6 345.8L81.6 345.8Z" fill="none" stroke="#000" stroke-width="1.0" stroke-linejoin="miter"/>
<path d="M112.1 343.8L117.6 353.3L106.6 353.3Z" fill="none" stroke="#000" stroke-width="1.0" stroke-linejoin="miter"/>
<path d="M80.8 349.5L86.3 359.0L75.3 359.0Z" fill="none" stroke="#000" stroke-width="1.0" stroke-linejoin="miter"/>
<path d="M105.8 339.5L111.3 349.0L100.3 349.0Z" fill="none" stroke="#000" stroke-width="1.0" stroke-linejoin="miter"/>
<path d="M93.3 345.5L98.8 355.0L87.8 355.0Z" fill="none" stroke="#000" stroke-width="1.0" stroke-linejoin="miter"/>
<path d="M118.3 352.3L123.8 361.8L112.8 361.8Z" fill="none" stroke="#000" stroke-width="1.0" stroke-linejoin="miter"/>
<path d="M77.7 341.9L83.2 351.4L72.2 351.4Z" fill="none" stroke="#000" stroke-width="1.0" stroke-linejoin="miter"/>
<path d="M102.7 347.4L108.2 356.9L97.2 356.9Z" fill="none" stroke="#000" stroke-width="1.0" stroke-linejoin="miter"/>
<path d="M90.2 356.5L95.7 366.0L84.7 366.0Z" fill="none" stroke="#000" stroke-width="1.0" stroke-linejoin="miter"/>
<path d="M115.2 333.0L120.7 342.5L109.7 342.5Z" fill="none" stroke="#000" stroke-width="1.0" stroke-linejoin="miter"/>
<path d="M83.9 342.7L89.4 352.2L78.4 352.2Z" fill="none" stroke="#000" stroke-width="1.0" stroke-linejoin="miter"/>
<path d="M108.9 348.3L114.4 357.8L103.4 357.8Z" fill="none" stroke="#000" stroke-width="1.0" stroke-linejoin="miter"/>
<path d="M96.4 337.9L101.9 347.4L90.9 347.4Z" fill="none" stroke="#000" stroke-width="1.0" stroke-linejoin="miter"/>
<path d="M121.4 344.6L126.9 354.1L115.9 354.1Z" fill="none" stroke="#000" stroke-width="1.0" stroke-linejoin="miter"/>
<path d="M73.8 350.7L79.3 360.2L68.3 360.2Z" fill="none" stroke="#000" stroke-width="1.0" stroke-linejoin="miter"/>
<path d="M98.8 340.6L104.3 350.1L93.3 350.1Z" fill="none" stroke="#000" stroke-width="1.0" stroke-linejoin="miter"/>
<path d="M86.3 346.3L91.8 355.8L80.8 355.8Z" fill="none" stroke="#000" stroke-width="1.0" stroke-linejoin="miter"/>
<path d="M111.3 353.8L116.8 363.3L105.8 363.3Z" fill="none" stroke="#000" stroke-width="1.0" stroke-linejoin="miter"/>
<path d="M80.0 335.3L85.5 344.8L74.5 344.8Z" fill="none" stroke="#000" stroke-width="1.0" stroke-linejoin="miter"/>
<path d="M105.0 343.4L110.5 352.9L99.5 352.9Z" fill="none" stroke="#000" stroke-width="1.0" stroke-linejoin="miter"/>
<path d="M92.5 349.0L98.0 358.5L87.0 358.5Z" fill="none" stroke="#000" stroke-width="1.0" stroke-linejoin="miter"/>
<path d="M117.5 338.9L123.0 348.4L112.0 348.4Z" fill="none" stroke="#000" stroke-width="1.0" stroke-linejoin="miter"/>
<path d="M76.9 345.1L82.4 354.6L71.4 354.6Z" fill="none" stroke="#000" stroke-width="1.0" stroke-linejoin="miter"/>
<path d="M101.9 351.6L107.4 361.1L96.4 361.1Z" fill="none" stroke="#000" stroke-width="1.0" stroke-linejoin="miter"/>
<path d="M89.4 341.4L94.9 350.9L83.9 350.9Z" fill="none" stroke="#000" stroke-width="1.0" stroke-linejoin="miter"/>
<path d="M114.4 346.9L119.9 356.4L108.9 356.4Z" fill="none" stroke="#000" stroke-width="1.0" stroke-linejoin="miter"/>
<path d="M83.2 355.3L88.7 364.8L77.7 364.8Z" fill="none" stroke="#000" stroke-width="1.0" stroke-linejoin="miter"/>
<path d="M108.2 336.7L113.7 346.2L102.7 346.2Z" fill="none" stroke="#000" stroke-width="1.0" stroke-linejoin="miter"/>
<path d="M95.7 344.0L101.2 353.5L90.2 353.5Z" fill="none" stroke="#000" stroke-width="1.0" stroke-linejoin="miter"/>
<path d="M120.7 349.8L126.2 359.3L115.2 359.3Z" fill="none" stroke="#000" stroke-width="1.0" stroke-linejoin="miter"/>
<path d="M75.3 339.8L80.8 349.3L69.8 349.3Z" fill="none" stroke="#000" stroke-width="1.0" stroke-linejoin="miter"/>
<path d="M100.3 345.7L105.8 355.2L94.8 355.2Z" fill="none" stroke="#000" stroke-width="1.0" stroke-linejoin="miter"/>
<path d="M87.8 352.6L93.3 362.1L82.3 362.1Z" fill="none" stroke="#000" stroke-width="1.0" stroke-linejoin="miter"/>
<path d="M112.8 342.1L118.3 351.6L107.3 351.6Z" fill="none" stroke="#000" stroke-width="1.0" stroke-linejoin="miter"/>
<path d="M81.6 347.6L87.1 357.1L76.1 357.1Z" fill="none" stroke="#000" stroke-width="1.0" stroke-linejoin="miter"/>
<path d="M106.6 357.3L112.1 366.8L101.1 366.8Z" fill="none" stroke="#000" stroke-width="1.0" stroke-linejoin="miter"/>
<path d="M94.1 333.9L99.6 343.4L88.6 343.4Z" fill="none" stroke="#000" stroke-width="1.0" stroke-linejoin="miter"/>
<path d="M119.1 343.0L124.6 352.5L113.6 352.5Z" fill="none" stroke="#000" stroke-width="1.0" stroke-linejoin="miter"/>
<path d="M78.5 348.5L84.0 358.0L73.0 358.0Z" fill="none" stroke="#000" stroke-width="1.0" stroke-linejoin="miter"/>
<path d="M103.5 338.3L109.0 347.8L98.0 347.8Z" fill="none" stroke="#000" stroke-width="1.0" stroke-linejoin="miter"/>
<path d="M91.0 344.7L96.5 354.2L85.5 354.2Z" fill="none" stroke="#000" stroke-width="1.0" stroke-linejoin="miter"/>
<path d="M116.0 351.0L121.5 360.5L110.5 360.5Z" fill="none" stroke="#000" stroke-width="1.0" stroke-linejoin="miter"/>
<path d="M126.7 341.1L132.2 350.6L121.2 350.6Z" fill="none" stroke="#000" stroke-width="1.0" stroke-linejoin="miter"/>
<path d="M136.7 345.2L142.2 354.7L131.2 354.7Z" fill="none" stroke="#000" stroke-width="1.0" stroke-linejoin="miter"/>
<path d="M131.7 350.9L137.2 360.4L126.2 360.4Z" fill="none" stroke="#000" stroke-width="1.0" stroke-linejoin="miter"/>
<path d="M141.7 337.4L147.2 346.9L136.2 346.9Z" fill="none" stroke="#000" stroke-width="1.0" stroke-linejoin="miter"/>
<path d="M122.2 343.0L127.7 352.5L116.7 352.5Z" fill="none" stroke="#000" stroke-width="1.0" stroke-linejoin="miter"/>
<path d="M132.2 347.2L137.7 356.7L126.7 356.7Z" fill="none" stroke="#000" stroke-width="1.0" stroke-linejoin="miter"/>
<path d="M127.2 339.9L132.7 349.4L121.7 349.4Z" fill="none" stroke="#000" stroke-width="1.0" stroke-linejoin="miter"/>
<path d="M94.2 321.8L99.7 331.3L88.7 331.3Z" fill="none" stroke="#000" stroke-width="1.0" stroke-linejoin="miter"/>
<path d="M102.9 328.5L108.4 338.0L97.4 338.0Z" fill="none" stroke="#000" stroke-width="1.0" stroke-linejoin="miter"/>
<path d="M113.9 317.4L119.4 326.9L108.4 326.9Z" fill="none" stroke="#000" stroke-width="1.0" stroke-linejoin="miter"/>
<path d="M68.9 355.6L74.4 365.1L63.4 365.1Z" fill="none" stroke="#000" stroke-width="1.0" stroke-linejoin="miter"/>
<path d="M77.9 360.9L83.4 370.4L72.4 370.4Z" fill="none" stroke="#000" stroke-width="1.0" stroke-linejoin="miter"/>
<path d="M63.3 347.3L68.8 356.8L57.8 356.8Z" fill="none" stroke="#000" stroke-width="1.0" stroke-linejoin="miter"/>
<polygon points="68.4,251.5 69.9,255.9 74.6,256.0 70.8,258.8 72.2,263.3 68.4,260.5 64.6,263.3 66.0,258.8 62.2,256.0 66.9,255.9" fill="#000"/>
<polygon points="98.7,290.9 100.2,295.3 104.9,295.4 101.1,298.2 102.5,302.7 98.7,299.9 94.9,302.7 96.3,298.2 92.5,295.4 97.2,295.3" fill="#000"/>
<polygon points="62.0,298.5 63.5,302.9 68.2,303.0 64.4,305.8 65.8,310.3 62.0,307.5 58.2,310.3 59.6,305.8 55.8,303.0 60.5,302.9" fill="#000"/>
<polygon points="64.0,325.5 65.5,329.9 70.2,330.0 66.4,332.8 67.8,337.3 64.0,334.5 60.2,337.3 61.6,332.8 57.8,330.0 62.5,329.9" fill="#000"/>
<polygon points="82.5,321.0 84.0,325.4 88.7,325.5 84.9,328.3 86.3,332.8 82.5,330.0 78.7,332.8 80.1,328.3 76.3,325.5 81.0,325.4" fill="#000"/>
<polygon points="103.3,319.5 104.8,323.9 109.5,324.0 105.7,326.8 107.1,331.3 103.3,328.5 99.5,331.3 100.9,326.8 97.1,324.0 101.8,323.9" fill="#000"/>
<polygon points="126.0,322.8 127.5,327.2 132.2,327.3 128.4,330.1 129.8,334.6 126.0,331.8 122.2,334.6 123.6,330.1 119.8,327.3 124.5,327.2" fill="#000"/>
<polygon points="192.6,286.1 194.1,290.5 198.8,290.6 195.0,293.4 196.4,297.9 192.6,295.1 188.8,297.9 190.2,293.4 186.4,290.6 191.1,290.5" fill="#000"/>
<polygon points="69.5,352.0 71.0,356.4 75.7,356.5 71.9,359.3 73.3,363.8 69.5,361.0 65.7,363.8 67.1,359.3 63.3,356.5 68.0,356.4" fill="#000"/>
<polygon points="80.0,362.0 81.5,366.4 86.2,366.5 82.4,369.3 83.8,373.8 80.0,371.0 76.2,373.8 77.6,369.3 73.8,366.5 78.5,366.4" fill="#000"/>
<line x1="153.30" y1="268.90" x2="241.90" y2="268.90" stroke="#1a1a1a" stroke-width="1" stroke-dasharray="6.4 2.6"/>
<line x1="150.30" y1="220.60" x2="150.30" y2="268.90" stroke="#1a1a1a" stroke-width="1" stroke-dasharray="7 4"/>
<line x1="241.90" y1="220.60" x2="241.90" y2="268.90" stroke="#1a1a1a" stroke-width="1" stroke-dasharray="7 4"/>
<path d="M161.2 225.7L166.7 235.2L155.7 235.2Z" fill="none" stroke="#000" stroke-width="1.0" stroke-linejoin="miter"/>
<circle cx="161.2" cy="245.0" r="5.3" fill="none" stroke="#111" stroke-width="1.1"/>
<polygon points="161.2,252.0 162.7,256.4 167.4,256.5 163.6,259.3 165.0,263.8 161.2,261.0 157.4,263.8 158.8,259.3 155.0,256.5 159.7,256.4" fill="#000"/>
<text x="180.50" y="235.60" font-size="9.7" font-family='"DejaVu Sans","Liberation Sans",sans-serif' fill="#000" textLength="30.00" lengthAdjust="spacingAndGlyphs">ULIRG</text>
<text x="180.50" y="248.60" font-size="9.7" font-family='"DejaVu Sans","Liberation Sans",sans-serif' fill="#000" textLength="22.20" lengthAdjust="spacingAndGlyphs">LIRG</text>
<text x="180.50" y="262.00" font-size="9.7" font-family='"DejaVu Sans","Liberation Sans",sans-serif' fill="#000" textLength="50.60" lengthAdjust="spacingAndGlyphs">additional</text>
<line x1="353.60" y1="371.73" x2="356.80" y2="371.73" stroke="#1a1a1a" stroke-width="1"/>
<line x1="588.60" y1="371.73" x2="585.40" y2="371.73" stroke="#1a1a1a" stroke-width="1"/>
<line x1="353.60" y1="349.85" x2="359.80" y2="349.85" stroke="#1a1a1a" stroke-width="1"/>
<line x1="588.60" y1="349.85" x2="582.40" y2="349.85" stroke="#1a1a1a" stroke-width="1"/>
<line x1="353.60" y1="327.98" x2="356.80" y2="327.98" stroke="#1a1a1a" stroke-width="1"/>
<line x1="588.60" y1="327.98" x2="585.40" y2="327.98" stroke="#1a1a1a" stroke-width="1"/>
<line x1="353.60" y1="306.10" x2="359.80" y2="306.10" stroke="#1a1a1a" stroke-width="1"/>
<line x1="588.60" y1="306.10" x2="582.40" y2="306.10" stroke="#1a1a1a" stroke-width="1"/>
<line x1="353.60" y1="284.23" x2="356.80" y2="284.23" stroke="#1a1a1a" stroke-width="1"/>
<line x1="588.60" y1="284.23" x2="585.40" y2="284.23" stroke="#1a1a1a" stroke-width="1"/>
<line x1="353.60" y1="262.35" x2="359.80" y2="262.35" stroke="#1a1a1a" stroke-width="1"/>
<line x1="588.60" y1="262.35" x2="582.40" y2="262.35" stroke="#1a1a1a" stroke-width="1"/>
<line x1="353.60" y1="240.47" x2="356.80" y2="240.47" stroke="#1a1a1a" stroke-width="1"/>
<line x1="588.60" y1="240.47" x2="585.40" y2="240.47" stroke="#1a1a1a" stroke-width="1"/>
<line x1="359.20" y1="218.60" x2="359.20" y2="221.60" stroke="#1a1a1a" stroke-width="1"/>
<line x1="359.20" y1="393.60" x2="359.20" y2="390.60" stroke="#1a1a1a" stroke-width="1"/>
<line x1="370.68" y1="218.60" x2="370.68" y2="221.60" stroke="#1a1a1a" stroke-width="1"/>
<line x1="370.68" y1="393.60" x2="370.68" y2="390.60" stroke="#1a1a1a" stroke-width="1"/>
<line x1="382.16" y1="218.60" x2="382.16" y2="221.60" stroke="#1a1a1a" stroke-width="1"/>
<line x1="382.16" y1="393.60" x2="382.16" y2="390.60" stroke="#1a1a1a" stroke-width="1"/>
<line x1="393.64" y1="218.60" x2="393.64" y2="221.60" stroke="#1a1a1a" stroke-width="1"/>
<line x1="393.64" y1="393.60" x2="393.64" y2="390.60" stroke="#1a1a1a" stroke-width="1"/>
<line x1="405.12" y1="218.60" x2="405.12" y2="221.60" stroke="#1a1a1a" stroke-width="1"/>
<line x1="405.12" y1="393.60" x2="405.12" y2="390.60" stroke="#1a1a1a" stroke-width="1"/>
<line x1="416.60" y1="218.60" x2="416.60" y2="221.60" stroke="#1a1a1a" stroke-width="1"/>
<line x1="416.60" y1="393.60" x2="416.60" y2="390.60" stroke="#1a1a1a" stroke-width="1"/>
<line x1="428.08" y1="218.60" x2="428.08" y2="221.60" stroke="#1a1a1a" stroke-width="1"/>
<line x1="428.08" y1="393.60" x2="428.08" y2="390.60" stroke="#1a1a1a" stroke-width="1"/>
<line x1="439.56" y1="218.60" x2="439.56" y2="221.60" stroke="#1a1a1a" stroke-width="1"/>
<line x1="439.56" y1="393.60" x2="439.56" y2="390.60" stroke="#1a1a1a" stroke-width="1"/>
<line x1="451.04" y1="218.60" x2="451.04" y2="221.60" stroke="#1a1a1a" stroke-width="1"/>
<line x1="451.04" y1="393.60" x2="451.04" y2="390.60" stroke="#1a1a1a" stroke-width="1"/>
<line x1="462.52" y1="218.60" x2="462.52" y2="221.60" stroke="#1a1a1a" stroke-width="1"/>
<line x1="462.52" y1="393.60" x2="462.52" y2="390.60" stroke="#1a1a1a" stroke-width="1"/>
<line x1="474.00" y1="218.60" x2="474.00" y2="221.60" stroke="#1a1a1a" stroke-width="1"/>
<line x1="474.00" y1="393.60" x2="474.00" y2="390.60" stroke="#1a1a1a" stroke-width="1"/>
<line x1="485.48" y1="218.60" x2="485.48" y2="221.60" stroke="#1a1a1a" stroke-width="1"/>
<line x1="485.48" y1="393.60" x2="485.48" y2="390.60" stroke="#1a1a1a" stroke-width="1"/>
<line x1="496.96" y1="218.60" x2="496.96" y2="221.60" stroke="#1a1a1a" stroke-width="1"/>
<line x1="496.96" y1="393.60" x2="496.96" y2="390.60" stroke="#1a1a1a" stroke-width="1"/>
<line x1="508.44" y1="218.60" x2="508.44" y2="221.60" stroke="#1a1a1a" stroke-width="1"/>
<line x1="508.44" y1="393.60" x2="508.44" y2="390.60" stroke="#1a1a1a" stroke-width="1"/>
<line x1="519.92" y1="218.60" x2="519.92" y2="221.60" stroke="#1a1a1a" stroke-width="1"/>
<line x1="519.92" y1="393.60" x2="519.92" y2="390.60" stroke="#1a1a1a" stroke-width="1"/>
<line x1="531.40" y1="218.60" x2="531.40" y2="221.60" stroke="#1a1a1a" stroke-width="1"/>
<line x1="531.40" y1="393.60" x2="531.40" y2="390.60" stroke="#1a1a1a" stroke-width="1"/>
<line x1="542.88" y1="218.60" x2="542.88" y2="221.60" stroke="#1a1a1a" stroke-width="1"/>
<line x1="542.88" y1="393.60" x2="542.88" y2="390.60" stroke="#1a1a1a" stroke-width="1"/>
<line x1="554.36" y1="218.60" x2="554.36" y2="221.60" stroke="#1a1a1a" stroke-width="1"/>
<line x1="554.36" y1="393.60" x2="554.36" y2="390.60" stroke="#1a1a1a" stroke-width="1"/>
<line x1="565.84" y1="218.60" x2="565.84" y2="221.60" stroke="#1a1a1a" stroke-width="1"/>
<line x1="565.84" y1="393.60" x2="565.84" y2="390.60" stroke="#1a1a1a" stroke-width="1"/>
<line x1="577.32" y1="218.60" x2="577.32" y2="221.60" stroke="#1a1a1a" stroke-width="1"/>
<line x1="577.32" y1="393.60" x2="577.32" y2="390.60" stroke="#1a1a1a" stroke-width="1"/>
<line x1="359.20" y1="218.60" x2="359.20" y2="224.40" stroke="#1a1a1a" stroke-width="1"/>
<line x1="359.20" y1="393.60" x2="359.20" y2="387.80" stroke="#1a1a1a" stroke-width="1"/>
<line x1="416.60" y1="218.60" x2="416.60" y2="224.40" stroke="#1a1a1a" stroke-width="1"/>
<line x1="416.60" y1="393.60" x2="416.60" y2="387.80" stroke="#1a1a1a" stroke-width="1"/>
<line x1="474.00" y1="218.60" x2="474.00" y2="224.40" stroke="#1a1a1a" stroke-width="1"/>
<line x1="474.00" y1="393.60" x2="474.00" y2="387.80" stroke="#1a1a1a" stroke-width="1"/>
<line x1="531.40" y1="218.60" x2="531.40" y2="224.40" stroke="#1a1a1a" stroke-width="1"/>
<line x1="531.40" y1="393.60" x2="531.40" y2="387.80" stroke="#1a1a1a" stroke-width="1"/>
<text x="345.10" y="395.10" font-size="11.7" font-family='"DejaVu Sans","Liberation Sans",sans-serif' fill="#000" text-anchor="middle" transform="rotate(-90 345.10 395.10)">−2</text>
<text x="345.10" y="349.85" font-size="11.7" font-family='"DejaVu Sans","Liberation Sans",sans-serif' fill="#000" text-anchor="middle" transform="rotate(-90 345.10 349.85)">0</text>
<text x="345.10" y="306.10" font-size="11.7" font-family='"DejaVu Sans","Liberation Sans",sans-serif' fill="#000" text-anchor="middle" transform="rotate(-90 345.10 306.10)">2</text>
<text x="345.10" y="262.35" font-size="11.7" font-family='"DejaVu Sans","Liberation Sans",sans-serif' fill="#000" text-anchor="middle" transform="rotate(-90 345.10 262.35)">4</text>
<text x="345.10" y="218.60" font-size="11.7" font-family='"DejaVu Sans","Liberation Sans",sans-serif' fill="#000" text-anchor="middle" transform="rotate(-90 345.10 218.60)">6</text>
<text x="359.20" y="409.30" font-size="11.7" font-family='"DejaVu Sans","Liberation Sans",sans-serif' fill="#000" text-anchor="middle">0</text>
<text x="416.60" y="409.30" font-size="11.7" font-family='"DejaVu Sans","Liberation Sans",sans-serif' fill="#000" text-anchor="middle" textLength="14.20" lengthAdjust="spacingAndGlyphs">50</text>
<text x="474.00" y="409.30" font-size="11.7" font-family='"DejaVu Sans","Liberation Sans",sans-serif' fill="#000" text-anchor="middle" textLength="21.30" lengthAdjust="spacingAndGlyphs">100</text>
<text x="531.40" y="409.30" font-size="11.7" font-family='"DejaVu Sans","Liberation Sans",sans-serif' fill="#000" text-anchor="middle" textLength="21.30" lengthAdjust="spacingAndGlyphs">150</text>
<text x="588.50" y="409.30" font-size="11.7" font-family='"DejaVu Sans","Liberation Sans",sans-serif' fill="#000" text-anchor="middle" textLength="21.30" lengthAdjust="spacingAndGlyphs">200</text>
<text font-size="11.7" font-family='"DejaVu Sans","Liberation Sans",sans-serif' fill="#000" transform="rotate(-90 320.20 367.50)"><tspan x="320.20" y="367.50" textLength="61.75" lengthAdjust="spacingAndGlyphs">Continuum</tspan> <tspan x="390.70" y="367.50" textLength="28.75" lengthAdjust="spacingAndGlyphs">slope</tspan> <tspan x="427.70" y="367.50" textLength="15.50" lengthAdjust="spacingAndGlyphs">(Γ)</tspan></text>
<text x="361.80" y="234.70" font-size="12.4" font-family='"DejaVu Sans","Liberation Sans",sans-serif' fill="#000" textLength="17.20" lengthAdjust="spacingAndGlyphs">(d)</text>
<text x="357.00" y="424.80" font-size="11.7" font-family='"DejaVu Sans","Liberation Sans",sans-serif' fill="#000" textLength="13.00" lengthAdjust="spacingAndGlyphs">Av</text>
<text x="377.10" y="424.80" font-size="11.7" font-family='"DejaVu Sans","Liberation Sans",sans-serif' fill="#000" textLength="35.20" lengthAdjust="spacingAndGlyphs">[mag]</text>
<text x="419.50" y="424.80" font-size="11.7" font-family='"DejaVu Sans","Liberation Sans",sans-serif' fill="#000" textLength="14.20" lengthAdjust="spacingAndGlyphs">(=</text>
<text x="440.70" y="424.80" font-size="12.5" font-family='"DejaVu Sans","Liberation Sans",sans-serif' fill="#000">τ</text>
<text x="448.40" y="430.40" font-size="8.3" font-family='"DejaVu Sans","Liberation Sans",sans-serif' fill="#000" textLength="15.00" lengthAdjust="spacingAndGlyphs" stroke="#111" stroke-width="0.3">3.1</text>
<text x="464.30" y="424.80" font-size="11.7" font-family='"DejaVu Sans","Liberation Sans",sans-serif' fill="#000" textLength="33.40" lengthAdjust="spacingAndGlyphs">/0.06</text>
<text x="504.60" y="424.80" font-size="11.7" font-family='"DejaVu Sans","Liberation Sans",sans-serif' fill="#000">+</text>
<text x="519.30" y="424.80" font-size="12.5" font-family='"DejaVu Sans","Liberation Sans",sans-serif' fill="#000">τ</text>
<text x="528.00" y="430.40" font-size="8.3" font-family='"DejaVu Sans","Liberation Sans",sans-serif' fill="#000" textLength="14.40" lengthAdjust="spacingAndGlyphs" stroke="#111" stroke-width="0.3">3.4</text>
<text x="543.00" y="424.80" font-size="11.7" font-family='"DejaVu Sans","Liberation Sans",sans-serif' fill="#000" textLength="46.00" lengthAdjust="spacingAndGlyphs">/0.006)</text>
<circle cx="359.0" cy="238.4" r="4.1" fill="none" stroke="#555" stroke-width="0.75"/>
<circle cx="364.3" cy="307.6" r="4.1" fill="none" stroke="#555" stroke-width="0.75"/>
<circle cx="367.5" cy="312.5" r="4.1" fill="none" stroke="#555" stroke-width="0.75"/>
<circle cx="359.0" cy="374.0" r="4.1" fill="none" stroke="#555" stroke-width="0.75"/>
<circle cx="361.5" cy="316.9" r="4.1" fill="none" stroke="#555" stroke-width="0.75"/>
<circle cx="359.1" cy="339.2" r="4.1" fill="none" stroke="#555" stroke-width="0.75"/>
<circle cx="360.7" cy="361.5" r="4.1" fill="none" stroke="#555" stroke-width="0.75"/>
<circle cx="359.7" cy="324.3" r="4.1" fill="none" stroke="#555" stroke-width="0.75"/>
<circle cx="362.3" cy="346.6" r="4.1" fill="none" stroke="#555" stroke-width="0.75"/>
<circle cx="359.0" cy="369.0" r="4.1" fill="none" stroke="#555" stroke-width="0.75"/>
<circle cx="360.4" cy="311.9" r="4.1" fill="none" stroke="#555" stroke-width="0.75"/>
<circle cx="359.5" cy="334.2" r="4.1" fill="none" stroke="#555" stroke-width="0.75"/>
<circle cx="361.9" cy="356.6" r="4.1" fill="none" stroke="#555" stroke-width="0.75"/>
<circle cx="359.2" cy="319.3" r="4.1" fill="none" stroke="#555" stroke-width="0.75"/>
<circle cx="361.1" cy="341.7" r="4.1" fill="none" stroke="#555" stroke-width="0.75"/>
<circle cx="359.9" cy="364.0" r="4.1" fill="none" stroke="#555" stroke-width="0.75"/>
<path d="M359.0 252.1L364.5 261.6L353.5 261.6Z" fill="none" stroke="#000" stroke-width="1.0" stroke-linejoin="miter"/>
<path d="M359.0 274.0L364.5 283.5L353.5 283.5Z" fill="none" stroke="#000" stroke-width="1.0" stroke-linejoin="miter"/>
<path d="M359.0 283.4L364.5 292.9L353.5 292.9Z" fill="none" stroke="#000" stroke-width="1.0" stroke-linejoin="miter"/>
<path d="M387.7 293.4L393.2 302.9L382.2 302.9Z" fill="none" stroke="#000" stroke-width="1.0" stroke-linejoin="miter"/>
<path d="M423.7 298.7L429.2 308.2L418.2 308.2Z" fill="none" stroke="#000" stroke-width="1.0" stroke-linejoin="miter"/>
<path d="M359.0 300.0L364.5 309.5L353.5 309.5Z" fill="none" stroke="#000" stroke-width="1.0" stroke-linejoin="miter"/>
<path d="M359.6 300.3L365.1 309.8L354.1 309.8Z" fill="none" stroke="#000" stroke-width="1.0" stroke-linejoin="miter"/>
<path d="M374.4 306.1L379.9 315.6L368.9 315.6Z" fill="none" stroke="#000" stroke-width="1.0" stroke-linejoin="miter"/>
<path d="M416.2 310.7L421.7 320.2L410.7 320.2Z" fill="none" stroke="#000" stroke-width="1.0" stroke-linejoin="miter"/>
<path d="M378.5 315.2L384.0 324.7L373.0 324.7Z" fill="none" stroke="#000" stroke-width="1.0" stroke-linejoin="miter"/>
<path d="M372.0 314.7L377.5 324.2L366.5 324.2Z" fill="none" stroke="#000" stroke-width="1.0" stroke-linejoin="miter"/>
<path d="M378.5 326.2L384.0 335.7L373.0 335.7Z" fill="none" stroke="#000" stroke-width="1.0" stroke-linejoin="miter"/>
<path d="M387.5 328.2L393.0 337.7L382.0 337.7Z" fill="none" stroke="#000" stroke-width="1.0" stroke-linejoin="miter"/>
<path d="M397.5 341.3L403.0 350.8L392.0 350.8Z" fill="none" stroke="#000" stroke-width="1.0" stroke-linejoin="miter"/>
<path d="M378.5 335.7L384.0 345.2L373.0 345.2Z" fill="none" stroke="#000" stroke-width="1.0" stroke-linejoin="miter"/>
<path d="M380.0 341.7L385.5 351.2L374.5 351.2Z" fill="none" stroke="#000" stroke-width="1.0" stroke-linejoin="miter"/>
<path d="M378.0 347.7L383.5 357.2L372.5 357.2Z" fill="none" stroke="#000" stroke-width="1.0" stroke-linejoin="miter"/>
<path d="M376.0 351.7L381.5 361.2L370.5 361.2Z" fill="none" stroke="#000" stroke-width="1.0" stroke-linejoin="miter"/>
<path d="M373.0 338.7L378.5 348.2L367.5 348.2Z" fill="none" stroke="#000" stroke-width="1.0" stroke-linejoin="miter"/>
<path d="M371.0 345.7L376.5 355.2L365.5 355.2Z" fill="none" stroke="#000" stroke-width="1.0" stroke-linejoin="miter"/>
<path d="M369.0 353.7L374.5 363.2L363.5 363.2Z" fill="none" stroke="#000" stroke-width="1.0" stroke-linejoin="miter"/>
<path d="M517.3 241.3L522.8 250.8L511.8 250.8Z" fill="none" stroke="#000" stroke-width="1.0" stroke-linejoin="miter"/>
<path d="M522.0 247.4L527.5 256.9L516.5 256.9Z" fill="none" stroke="#000" stroke-width="1.0" stroke-linejoin="miter"/>
<path d="M479.3 291.3L484.8 300.8L473.8 300.8Z" fill="none" stroke="#000" stroke-width="1.0" stroke-linejoin="miter"/>
<path d="M370.5 374.2L376.0 383.7L365.0 383.7Z" fill="none" stroke="#000" stroke-width="1.0" stroke-linejoin="miter"/>
<path d="M359.0 378.2L364.5 387.7L353.5 387.7Z" fill="none" stroke="#000" stroke-width="1.0" stroke-linejoin="miter"/>
<path d="M359.3 380.7L364.8 390.2L353.8 390.2Z" fill="none" stroke="#000" stroke-width="1.0" stroke-linejoin="miter"/>
<path d="M358.7 378.5L364.2 388.0L353.2 388.0Z" fill="none" stroke="#000" stroke-width="1.0" stroke-linejoin="miter"/>
<path d="M359.2 300.2L364.7 309.7L353.7 309.7Z" fill="none" stroke="#000" stroke-width="1.0" stroke-linejoin="miter"/>
<path d="M359.0 302.9L364.5 312.4L353.5 312.4Z" fill="none" stroke="#000" stroke-width="1.0" stroke-linejoin="miter"/>
<path d="M359.4 303.4L364.9 312.9L353.9 312.9Z" fill="none" stroke="#000" stroke-width="1.0" stroke-linejoin="miter"/>
<path d="M358.9 304.8L364.4 314.3L353.4 314.3Z" fill="none" stroke="#000" stroke-width="1.0" stroke-linejoin="miter"/>
<path d="M359.3 307.0L364.8 316.5L353.8 316.5Z" fill="none" stroke="#000" stroke-width="1.0" stroke-linejoin="miter"/>
<path d="M359.1 307.8L364.6 317.3L353.6 317.3Z" fill="none" stroke="#000" stroke-width="1.0" stroke-linejoin="miter"/>
<path d="M359.5 309.5L365.0 319.0L354.0 319.0Z" fill="none" stroke="#000" stroke-width="1.0" stroke-linejoin="miter"/>
<path d="M358.7 312.0L364.2 321.5L353.2 321.5Z" fill="none" stroke="#000" stroke-width="1.0" stroke-linejoin="miter"/>
<path d="M359.1 313.1L364.6 322.6L353.6 322.6Z" fill="none" stroke="#000" stroke-width="1.0" stroke-linejoin="miter"/>
<path d="M358.9 315.1L364.4 324.6L353.4 324.6Z" fill="none" stroke="#000" stroke-width="1.0" stroke-linejoin="miter"/>
<path d="M359.3 317.9L364.8 327.4L353.8 327.4Z" fill="none" stroke="#000" stroke-width="1.0" stroke-linejoin="miter"/>
<path d="M358.8 318.5L364.3 328.0L353.3 328.0Z" fill="none" stroke="#000" stroke-width="1.0" stroke-linejoin="miter"/>
<path d="M359.2 320.0L364.7 329.5L353.7 329.5Z" fill="none" stroke="#000" stroke-width="1.0" stroke-linejoin="miter"/>
<path d="M359.0 322.3L364.5 331.8L353.5 331.8Z" fill="none" stroke="#000" stroke-width="1.0" stroke-linejoin="miter"/>
<path d="M359.4 323.2L364.9 332.7L353.9 332.7Z" fill="none" stroke="#000" stroke-width="1.0" stroke-linejoin="miter"/>
<path d="M358.8 324.9L364.3 334.4L353.3 334.4Z" fill="none" stroke="#000" stroke-width="1.0" stroke-linejoin="miter"/>
<path d="M359.2 327.6L364.7 337.1L353.7 337.1Z" fill="none" stroke="#000" stroke-width="1.0" stroke-linejoin="miter"/>
<path d="M359.0 328.8L364.5 338.3L353.5 338.3Z" fill="none" stroke="#000" stroke-width="1.0" stroke-linejoin="miter"/>
<path d="M359.4 330.8L364.9 340.3L353.9 340.3Z" fill="none" stroke="#000" stroke-width="1.0" stroke-linejoin="miter"/>
<path d="M358.9 333.7L364.4 343.2L353.4 343.2Z" fill="none" stroke="#000" stroke-width="1.0" stroke-linejoin="miter"/>
<path d="M359.3 334.2L364.8 343.7L353.8 343.7Z" fill="none" stroke="#000" stroke-width="1.0" stroke-linejoin="miter"/>
<path d="M359.1 335.5L364.6 345.0L353.6 345.0Z" fill="none" stroke="#000" stroke-width="1.0" stroke-linejoin="miter"/>
<path d="M359.5 337.6L365.0 347.1L354.0 347.1Z" fill="none" stroke="#000" stroke-width="1.0" stroke-linejoin="miter"/>
<path d="M358.7 338.4L364.2 347.9L353.2 347.9Z" fill="none" stroke="#000" stroke-width="1.0" stroke-linejoin="miter"/>
<path d="M359.1 340.0L364.6 349.5L353.6 349.5Z" fill="none" stroke="#000" stroke-width="1.0" stroke-linejoin="miter"/>
<path d="M358.9 342.4L364.4 351.9L353.4 351.9Z" fill="none" stroke="#000" stroke-width="1.0" stroke-linejoin="miter"/>
<path d="M359.3 343.5L364.8 353.0L353.8 353.0Z" fill="none" stroke="#000" stroke-width="1.0" stroke-linejoin="miter"/>
<path d="M358.8 345.3L364.3 354.8L353.3 354.8Z" fill="none" stroke="#000" stroke-width="1.0" stroke-linejoin="miter"/>
<path d="M359.2 348.1L364.7 357.6L353.7 357.6Z" fill="none" stroke="#000" stroke-width="1.0" stroke-linejoin="miter"/>
<path d="M359.0 348.6L364.5 358.1L353.5 358.1Z" fill="none" stroke="#000" stroke-width="1.0" stroke-linejoin="miter"/>
<path d="M359.4 350.0L364.9 359.5L353.9 359.5Z" fill="none" stroke="#000" stroke-width="1.0" stroke-linejoin="miter"/>
<path d="M358.8 352.3L364.3 361.8L353.3 361.8Z" fill="none" stroke="#000" stroke-width="1.0" stroke-linejoin="miter"/>
<path d="M359.2 353.1L364.7 362.6L353.7 362.6Z" fill="none" stroke="#000" stroke-width="1.0" stroke-linejoin="miter"/>
<path d="M359.0 354.8L364.5 364.3L353.5 364.3Z" fill="none" stroke="#000" stroke-width="1.0" stroke-linejoin="miter"/>
<path d="M359.4 357.4L364.9 366.9L353.9 366.9Z" fill="none" stroke="#000" stroke-width="1.0" stroke-linejoin="miter"/>
<path d="M358.9 358.5L364.4 368.0L353.4 368.0Z" fill="none" stroke="#000" stroke-width="1.0" stroke-linejoin="miter"/>
<path d="M359.3 360.5L364.8 370.0L353.8 370.0Z" fill="none" stroke="#000" stroke-width="1.0" stroke-linejoin="miter"/>
<path d="M361.7 307.0L367.2 316.5L356.2 316.5Z" fill="none" stroke="#000" stroke-width="1.0" stroke-linejoin="miter"/>
<path d="M363.5 326.3L369.0 335.8L358.0 335.8Z" fill="none" stroke="#000" stroke-width="1.0" stroke-linejoin="miter"/>
<path d="M360.0 345.6L365.5 355.1L354.5 355.1Z" fill="none" stroke="#000" stroke-width="1.0" stroke-linejoin="miter"/>
<path d="M361.8 313.4L367.3 322.9L356.3 322.9Z" fill="none" stroke="#000" stroke-width="1.0" stroke-linejoin="miter"/>
<path d="M360.9 332.7L366.4 342.2L355.4 342.2Z" fill="none" stroke="#000" stroke-width="1.0" stroke-linejoin="miter"/>
<path d="M362.6 352.1L368.1 361.6L357.1 361.6Z" fill="none" stroke="#000" stroke-width="1.0" stroke-linejoin="miter"/>
<path d="M360.5 319.8L366.0 329.3L355.0 329.3Z" fill="none" stroke="#000" stroke-width="1.0" stroke-linejoin="miter"/>
<path d="M362.2 339.2L367.7 348.7L356.7 348.7Z" fill="none" stroke="#000" stroke-width="1.0" stroke-linejoin="miter"/>
<path d="M370.7 354.3L376.2 363.8L365.2 363.8Z" fill="none" stroke="#000" stroke-width="1.0" stroke-linejoin="miter"/>
<path d="M378.2 323.2L383.7 332.7L372.7 332.7Z" fill="none" stroke="#000" stroke-width="1.0" stroke-linejoin="miter"/>
<path d="M366.0 337.1L371.5 346.6L360.5 346.6Z" fill="none" stroke="#000" stroke-width="1.0" stroke-linejoin="miter"/>
<path d="M373.5 344.6L379.0 354.1L368.0 354.1Z" fill="none" stroke="#000" stroke-width="1.0" stroke-linejoin="miter"/>
<path d="M369.7 329.8L375.2 339.3L364.2 339.3Z" fill="none" stroke="#000" stroke-width="1.0" stroke-linejoin="miter"/>
<path d="M377.2 339.9L382.7 349.4L371.7 349.4Z" fill="none" stroke="#000" stroke-width="1.0" stroke-linejoin="miter"/>
<path d="M367.9 347.3L373.4 356.8L362.4 356.8Z" fill="none" stroke="#000" stroke-width="1.0" stroke-linejoin="miter"/>
<path d="M375.4 333.9L380.9 343.4L369.9 343.4Z" fill="none" stroke="#000" stroke-width="1.0" stroke-linejoin="miter"/>
<path d="M371.6 342.4L377.1 351.9L366.1 351.9Z" fill="none" stroke="#000" stroke-width="1.0" stroke-linejoin="miter"/>
<path d="M379.1 350.9L384.6 360.4L373.6 360.4Z" fill="none" stroke="#000" stroke-width="1.0" stroke-linejoin="miter"/>
<path d="M365.5 326.0L371.0 335.5L360.0 335.5Z" fill="none" stroke="#000" stroke-width="1.0" stroke-linejoin="miter"/>
<path d="M373.0 338.1L378.5 347.6L367.5 347.6Z" fill="none" stroke="#000" stroke-width="1.0" stroke-linejoin="miter"/>
<path d="M369.3 345.5L374.8 355.0L363.8 355.0Z" fill="none" stroke="#000" stroke-width="1.0" stroke-linejoin="miter"/>
<polygon points="359.0,286.5 360.5,290.9 365.2,291.0 361.4,293.8 362.8,298.3 359.0,295.5 355.2,298.3 356.6,293.8 352.8,291.0 357.5,290.9" fill="#000"/>
<polygon points="418.2,290.0 419.7,294.4 424.4,294.5 420.6,297.3 422.0,301.8 418.2,299.0 414.4,301.8 415.8,297.3 412.0,294.5 416.7,294.4" fill="#000"/>
<polygon points="562.3,251.2 563.8,255.6 568.5,255.7 564.7,258.5 566.1,263.0 562.3,260.2 558.5,263.0 559.9,258.5 556.1,255.7 560.8,255.6" fill="#000"/>
<polygon points="458.3,298.8 459.8,303.2 464.5,303.3 460.7,306.1 462.1,310.6 458.3,307.8 454.5,310.6 455.9,306.1 452.1,303.3 456.8,303.2" fill="#000"/>
<polygon points="493.0,321.2 494.5,325.6 499.2,325.7 495.4,328.5 496.8,333.0 493.0,330.2 489.2,333.0 490.6,328.5 486.8,325.7 491.5,325.6" fill="#000"/>
<polygon points="360.0,320.5 361.5,324.9 366.2,325.0 362.4,327.8 363.8,332.3 360.0,329.5 356.2,332.3 357.6,327.8 353.8,325.0 358.5,324.9" fill="#000"/>
<polygon points="359.0,364.5 360.5,368.9 365.2,369.0 361.4,371.8 362.8,376.3 359.0,373.5 355.2,376.3 356.6,371.8 352.8,369.0 357.5,368.9" fill="#000"/>
<line x1="490.40" y1="347.60" x2="583.00" y2="347.60" stroke="#1a1a1a" stroke-width="1" stroke-dasharray="6.4 2.6"/>
<line x1="490.40" y1="349.60" x2="490.40" y2="393.60" stroke="#1a1a1a" stroke-width="1" stroke-dasharray="7 4"/>
<line x1="583.00" y1="349.60" x2="583.00" y2="393.60" stroke="#1a1a1a" stroke-width="1" stroke-dasharray="7 4"/>
<path d="M502.0 350.7L507.5 360.2L496.5 360.2Z" fill="none" stroke="#000" stroke-width="1.0" stroke-linejoin="miter"/>
<circle cx="502.0" cy="369.5" r="5.3" fill="none" stroke="#111" stroke-width="1.1"/>
<polygon points="502.0,376.7 503.5,381.1 508.2,381.2 504.4,384.0 505.8,388.5 502.0,385.7 498.2,388.5 499.6,384.0 495.8,381.2 500.5,381.1" fill="#000"/>
<text x="521.60" y="360.60" font-size="9.7" font-family='"DejaVu Sans","Liberation Sans",sans-serif' fill="#000" textLength="30.00" lengthAdjust="spacingAndGlyphs">ULIRG</text>
<text x="521.60" y="373.10" font-size="9.7" font-family='"DejaVu Sans","Liberation Sans",sans-serif' fill="#000" textLength="22.20" lengthAdjust="spacingAndGlyphs">LIRG</text>
<text x="521.60" y="386.70" font-size="9.7" font-family='"DejaVu Sans","Liberation Sans",sans-serif' fill="#000" textLength="50.60" lengthAdjust="spacingAndGlyphs">additional</text>
<rect x="43.40" y="218.60" width="235.30" height="175.10" fill="none" stroke="#1a1a1a" stroke-width="1"/>
<rect x="353.60" y="218.60" width="235.00" height="175.00" fill="none" stroke="#1a1a1a" stroke-width="1"/>
</svg>
</body></html>
